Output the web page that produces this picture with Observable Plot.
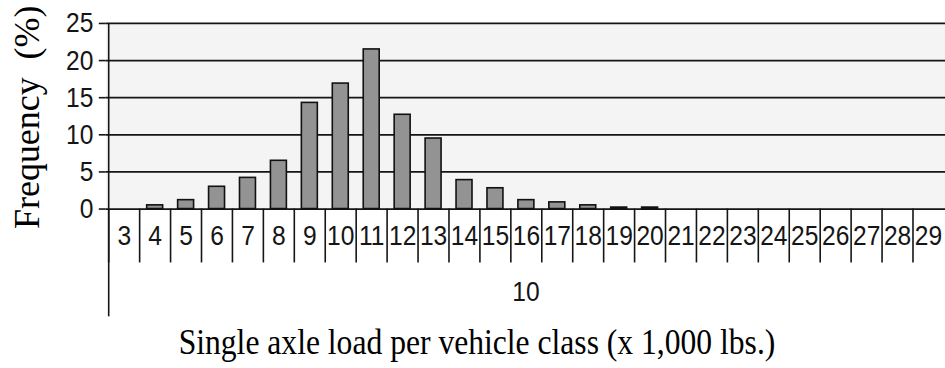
<!DOCTYPE html>
<html><head><meta charset="utf-8">
<script src="https://cdn.jsdelivr.net/npm/d3@7"></script>
<script src="https://cdn.jsdelivr.net/npm/@observablehq/plot@0.6"></script>
<style>html,body{margin:0;padding:0;background:#fff;overflow:hidden}</style>
</head><body><div id="chart"></div>
<script>
// Data
const loads = ["3","4","5","6","7","8","9","10","11","12","13","14","15","16","17","18","19","20","21","22","23","24","25","26","27","28","29"];
const frequency = [0,0.5,1.2,3.0,4.2,6.5,14.3,16.9,21.5,12.7,9.5,3.9,2.8,1.2,0.9,0.5,0.2,0.2,0,0,0,0,0,0,0,0,0];
const yTicks = [0,5,10,15,20,25];
const groupLabel = "10";
const yTitle = "Frequency  (%)";
const xTitle = "Single axle load per vehicle class (x 1,000 lbs.)";

const table = loads.map((l, i) => ({load: l, freq: frequency[i]}));
const bars = table.filter(d => d.freq > 0);

const W = 947, H = 368, mL = 106, mR = 0, mT = 23, mB = 159;
const step = (W - mL - mR) / loads.length;
const sans = "Liberation Sans, Arial, sans-serif";
const serif = "Liberation Serif, Times New Roman, serif";
const ink = "#151515";

const chart = Plot.plot({
  width: W, height: H,
  marginLeft: mL, marginRight: mR, marginTop: mT, marginBottom: mB,
  style: {background: "#fff", color: ink, fontFamily: sans, overflow: "visible"},
  x: {domain: loads, paddingInner: 0.5, paddingOuter: 0.25, align: 0.5, label: null, axis: null},
  y: {domain: [0, d3.max(yTicks)], nice: false, label: null, axis: null},
  marks: [
    Plot.frame({fill: "#f4f4f4", stroke: null}),
    Plot.ruleY(yTicks, {stroke: ink, strokeWidth: 1.8}),
    Plot.barY(bars, {x: "load", y: "freq", fill: "#939393", stroke: "#111", strokeWidth: 1.6}),
    // left axis line
    Plot.ruleX([loads[0]], {x: d => d, y1: () => 0, y2: () => d3.max(yTicks), dx: -step / 2, stroke: ink, strokeWidth: 1.6}),
    // y axis
    Plot.axisY(yTicks, {tickSize: 7, tickPadding: 6, fontSize: 28, fontFamily: sans, label: null, strokeWidth: 1.6}),
    // category cell dividers
    Plot.axisX(loads, {tickSize: 54, dx: -step / 2, tickFormat: () => "", label: null, strokeWidth: 1.6}),
    // left extended group divider
    Plot.axisX([loads[0]], {tickSize: 108, dx: -step / 2, tickFormat: () => "", label: null, strokeWidth: 1.6}),
    // category labels
    Plot.axisX(loads, {tickSize: 0, tickPadding: 16, fontSize: 28, fontFamily: sans, label: null}),
    // group label
    Plot.text([groupLabel], {text: d => d, frameAnchor: "bottom", lineAnchor: "middle", textAnchor: "middle", dy: 83, fontSize: 28, fontFamily: sans, fill: ink}),
    // axis titles
    Plot.text([yTitle], {text: d => d, frameAnchor: "left", textAnchor: "middle", lineAnchor: "middle", dx: -79, dy: 1, rotate: -90, fontSize: 36, fontFamily: serif, fill: "#000"}),
    Plot.text([xTitle], {text: d => d, frameAnchor: "bottom", textAnchor: "middle", lineAnchor: "middle", dx: -49, dy: 134, fontSize: 36, fontFamily: serif, fill: "#000"})
  ]
});
document.getElementById("chart").appendChild(chart);

// the reference's lettering is horizontally condensed
d3.select(chart).selectAll("text").each(function() {
  const t = this.getAttribute("transform") || "";
  if (t.includes("rotate")) return;
  const len = this.getComputedTextLength();
  if (len > 0) {
    this.setAttribute("textLength", len * 0.88);
    this.setAttribute("lengthAdjust", "spacingAndGlyphs");
  }
});
</script>
</body></html>
